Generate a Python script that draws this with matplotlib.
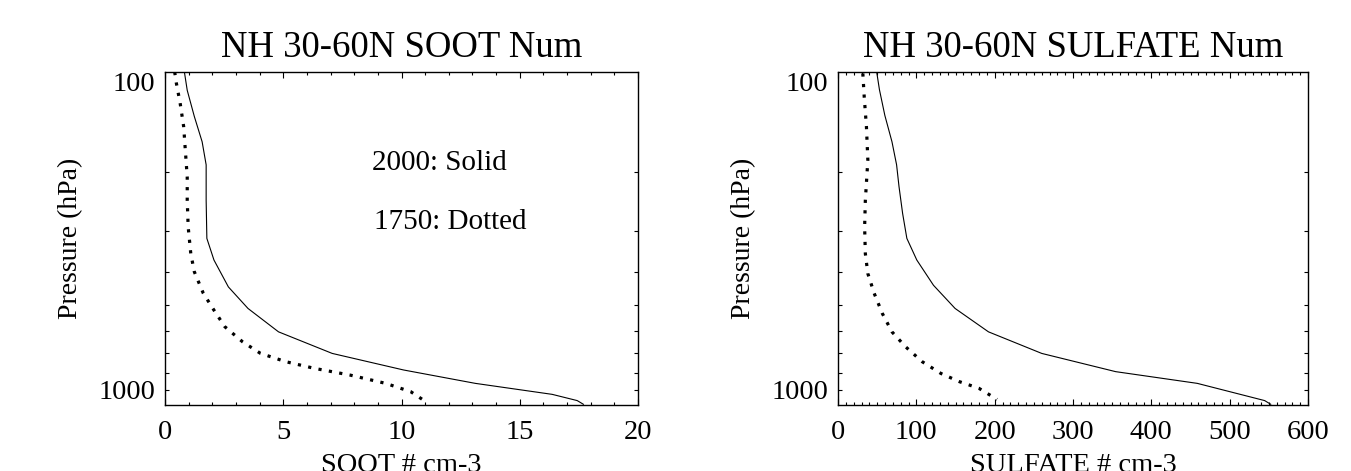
import matplotlib
matplotlib.use("Agg")
import matplotlib.pyplot as plt
from matplotlib.ticker import FixedLocator, MultipleLocator, NullFormatter

plt.rcParams['font.family'] = ['Liberation Serif', 'DejaVu Serif']

# ---- data ----
soot_2000_x = [0.82, 0.94, 1.24, 1.57, 1.74, 1.74, 1.77, 2.07, 2.68, 3.51, 4.80,
               7.07, 10.09, 13.12, 16.37, 17.43, 17.69]
soot_2000_p = [100, 113.5, 136, 162, 190, 243, 316, 367, 442, 513, 603,
               700, 785, 861, 929, 970, 995]
soot_1750_x = [0.41, 0.48, 0.64, 0.79, 0.86, 0.94, 0.94, 0.98, 1.09, 1.24, 1.62,
               2.07, 2.53, 3.28, 4.04, 5.10, 6.31, 7.82, 9.33, 10.39, 10.92]
soot_1750_p = [100, 108, 124, 146, 172, 207, 243, 292, 351, 398, 462,
               519, 582, 646, 700, 741, 776, 813, 861, 912, 966]

sulf_2000_x = [49.4, 52.9, 59.8, 68.9, 74.8, 77.9, 82.5, 87.9, 100.6, 121.9, 149.5,
               192.1, 260.1, 354.4, 458.6, 544.7, 552.4]
sulf_2000_p = [100, 113, 135, 162, 190, 221, 266, 316, 367, 437, 513,
               603, 700, 794, 861, 970, 995]
sulf_1750_x = [31.7, 33.5, 36.3, 38.1, 34.9, 34.0, 34.9, 38.1, 46.2, 56.6, 68.9,
               86.1, 107.4, 131.4, 155.0, 179.9, 203.0]
sulf_1750_p = [101, 119, 146, 184, 243, 292, 351, 403, 462, 531, 603,
               668, 741, 804, 851, 891, 962]

titles = ["NH 30-60N SOOT Num", "NH 30-60N SULFATE Num"]
xlabels = ["SOOT # cm-3", "SULFATE # cm-3"]
ylabel = "Pressure (hPa)"
xlims = [(0, 20), (0, 600)]
xmajor = [5, 100]
xminor = [1, 10]
ymajor = [100, 1000]
yminor = [200, 300, 400, 500, 600, 700, 800, 900]
notes = ["2000: Solid", "1750: Dotted"]

W, H = 1351, 471
fig = plt.figure(figsize=(W / 100, H / 100), dpi=100)
ax_px = [(165, 72, 638, 405), (838, 72, 1308, 405)]
axes = []
for (l, t, r, b) in ax_px:
    axes.append(fig.add_axes([l / W, (H - b) / H, (r - l) / W, (b - t) / H]))

series = [((soot_2000_x, soot_2000_p), (soot_1750_x, soot_1750_p)),
          ((sulf_2000_x, sulf_2000_p), (sulf_1750_x, sulf_1750_p))]

for i, ax in enumerate(axes):
    (sx, sp), (dx, dp) = series[i]
    ax.plot(sx, sp, color='black', lw=0.8, solid_joinstyle='miter')
    ax.plot(dx, dp, color='black', lw=2.3, linestyle=(0, (1, 2.3)), dash_capstyle='butt')
    ax.set_yscale('log')
    ax.set_ylim(1000, 100)
    ax.set_xlim(*xlims[i])
    ax.xaxis.set_major_locator(MultipleLocator(xmajor[i]))
    ax.xaxis.set_minor_locator(MultipleLocator(xminor[i]))
    ax.yaxis.set_major_locator(FixedLocator(ymajor))
    ax.yaxis.set_minor_locator(FixedLocator(yminor))
    ax.yaxis.set_minor_formatter(NullFormatter())
    ax.set_yticklabels([str(v) for v in ymajor])
    ax.tick_params(axis='both', which='both', direction='in', top=True, right=True,
                   labelsize=20.5, width=0.8, colors='black')
    ax.tick_params(axis='x', which='major', length=4.5, pad=10.5)
    ax.tick_params(axis='x', which='minor', length=2.2)
    ax.tick_params(axis='y', which='major', length=0, pad=7)
    ax.tick_params(axis='y', which='minor', length=3)
    labs = ax.get_yticklabels()
    labs[0].set_verticalalignment('top')
    labs[1].set_verticalalignment('bottom')
    for s in ax.spines.values():
        s.set_linewidth(1.0)
    ax.set_title(titles[i], fontsize=26.5, y=1.045, pad=0)
    ax.set_xlabel(xlabels[i], fontsize=20.5)
    ax.xaxis.set_label_coords(0.5, -0.145)
    ax.xaxis.label.set_verticalalignment('top')
    ax.set_ylabel(ylabel, fontsize=20)
    ax.yaxis.label.set_verticalalignment('center')
    ax.yaxis.set_label_coords(-0.2, 0.5)

axes[0].text(8.75, 188, notes[0], fontsize=21, va='center', ha='left')
axes[0].text(8.83, 282, notes[1], fontsize=21, va='center', ha='left')

fig.savefig("out.png", dpi=100)
